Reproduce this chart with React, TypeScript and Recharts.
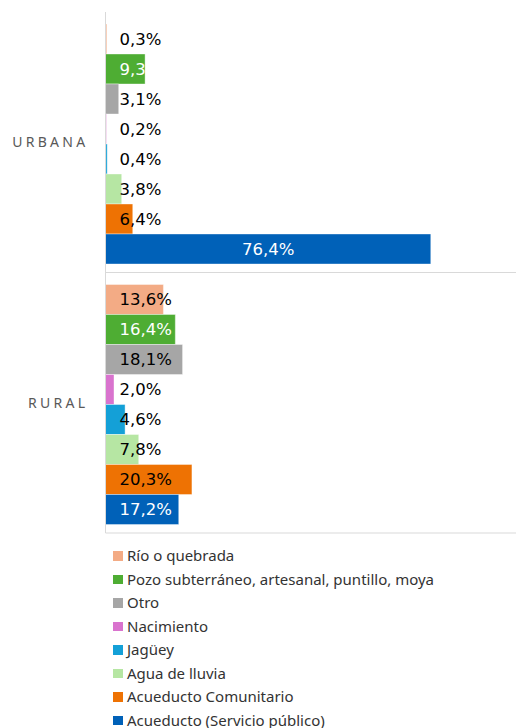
import React from 'react';
import {
    BarChart,
    Bar,
    XAxis,
    YAxis,
    CartesianGrid,
    Legend,
    LabelList,
} from 'recharts';

const categories = ['URBANA', 'RURAL'];

const rioQuebrada = [0.3, 13.6];
const pozo = [9.3, 16.4];
const otro = [3.1, 18.1];
const nacimiento = [0.2, 2.0];
const jaguey = [0.4, 4.6];
const aguaLluvia = [3.8, 7.8];
const acueductoComunitario = [6.4, 20.3];
const acueductoPublico = [76.4, 17.2];

const series = [
    { key: 'rio', name: 'Río o quebrada', values: rioQuebrada, color: '#F3AB85', label: '#000000' },
    { key: 'pozo', name: 'Pozo subterráneo, artesanal, puntillo, moya', values: pozo, color: '#4EAD33', label: '#FFFFFF' },
    { key: 'otro', name: 'Otro', values: otro, color: '#A6A6A6', label: '#000000' },
    { key: 'nacimiento', name: 'Nacimiento', values: nacimiento, color: '#D973CE', label: '#000000' },
    { key: 'jaguey', name: 'Jagüey', values: jaguey, color: '#14A0D7', label: '#000000' },
    { key: 'lluvia', name: 'Agua de lluvia', values: aguaLluvia, color: '#B6E6A3', label: '#000000' },
    { key: 'comunitario', name: 'Acueducto Comunitario', values: acueductoComunitario, color: '#EE7203', label: '#000000' },
    { key: 'publico', name: 'Acueducto (Servicio público)', values: acueductoPublico, color: '#0061B8', label: '#FFFFFF' },
];

const data = categories.map((cat, i) => {
    const row: any = { categoria: cat };
    series.forEach((s) => { row[s.key] = s.values[i]; });
    return row;
});

const fmt = (v: number) => v.toFixed(1).replace('.', ',') + '%';

// etiqueta al inicio de la barra; la barra grande lleva el texto centrado
const makeLabel = (color: string) => (props: any) => {
    const { x, y, width, height, value } = props;
    const big = width > 150;
    return (
        <text
            x={big ? x + width / 2 : x + 14}
            y={y + height / 2}
            fill={color}
            textAnchor={big ? 'middle' : 'start'}
            dominantBaseline="central"
            fontFamily="DejaVu Sans"
            fontSize={16.5}
        >
            {fmt(Number(value))}
        </text>
    );
};

const renderLegend = () => (
    <div style={{ height: 195, paddingTop: 11, paddingLeft: 105, boxSizing: 'border-box', fontFamily: 'Noto Sans', fontSize: 15, color: '#333333' }}>
        {series.map((s) => (
            <div key={s.key} style={{ height: 23.5, lineHeight: '23.5px', display: 'flex', alignItems: 'center', whiteSpace: 'nowrap' }}>
                <span style={{ display: 'inline-block', width: 9.5, height: 9.5, background: s.color, marginRight: 4.5 }} />
                <span>{s.name}</span>
            </div>
        ))}
    </div>
);

export default function App() {
    return (
        <BarChart
            width={516}
            height={720}
            data={data}
            layout="vertical"
            margin={{ top: 4, right: 0, bottom: 0, left: 0 }}
            barCategoryGap={12}
            barGap={0}
        >
            <CartesianGrid
                vertical={false}
                stroke="#d9d9d9"
                horizontalCoordinatesGenerator={({ offset }: any) => [offset.top + offset.height / 2, offset.top + offset.height]}
            />
            <XAxis type="number" domain={[0, 98.3]} hide />
            <YAxis
                type="category"
                dataKey="categoria"
                width={97.5}
                axisLine={{ stroke: '#d9d9d9' }}
                tickLine={false}
                tickSize={0}
                tickMargin={17}
                tick={{ fill: '#595959', fontSize: 14, fontFamily: 'Noto Sans', letterSpacing: 3.3 }}
            />
            <Legend verticalAlign="bottom" align="left" content={renderLegend} />
            {series.map((s) => (
                <Bar
                    key={s.key}
                    dataKey={s.key}
                    name={s.name}
                    fill={s.color}
                    stroke="#ffffff"
                    strokeOpacity={0.5}
                    strokeWidth={0.75}
                    isAnimationActive={false}
                >
                    <LabelList dataKey={s.key} content={makeLabel(s.label)} />
                </Bar>
            ))}
        </BarChart>
    );
}
